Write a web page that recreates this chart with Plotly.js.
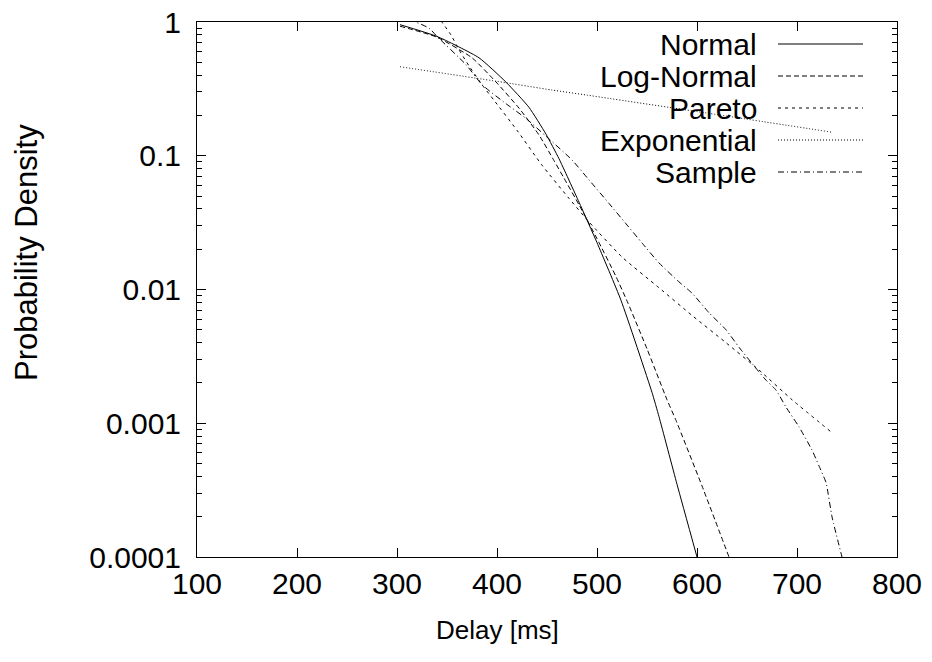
<!DOCTYPE html>
<html>
<head>
<meta charset="utf-8">
<script src="https://cdn.plot.ly/plotly-3.0.1.min.js"></script>
<style>html,body{margin:0;padding:0;background:#fff;}#chart{width:932px;height:662px;}</style>
</head>
<body>
<div id="chart"></div>
<script>
// ---- data ----
const seriesNames = ["Normal", "Log-Normal", "Pareto", "Exponential", "Sample"];

const normalX = [303, 340, 382, 409, 432, 449, 462, 482, 500, 524, 555, 562, 580, 600];
const normalY = [0.955, 0.78, 0.54, 0.355, 0.23, 0.145, 0.095, 0.045, 0.0224, 0.0083, 0.0017, 0.00112, 0.00035, 0.0001];

const lognormalX = [303, 340, 375, 399, 422, 442, 457, 467, 482, 500, 519, 531, 550, 570, 579, 605, 632];
const lognormalY = [0.93, 0.77, 0.54, 0.356, 0.227, 0.143, 0.092, 0.068, 0.043, 0.024, 0.0125, 0.0079, 0.0036, 0.0015, 0.00105, 0.00034, 0.0001];

const paretoX = [344, 354, 362, 372, 385, 397, 420, 445, 472, 492, 525, 562, 595, 629, 662, 695, 735];
const paretoY = [1.02, 0.8, 0.62, 0.47, 0.34, 0.26, 0.155, 0.085, 0.048, 0.032, 0.0175, 0.0103, 0.0064, 0.0040, 0.0025, 0.0015, 0.00085];

const exponentialX = [303, 400, 455, 490, 600, 735];
const exponentialY = [0.463, 0.36, 0.31, 0.284, 0.214, 0.15];

const sampleX = [312, 332, 340, 369, 385, 409, 429, 449, 475, 492, 512, 529, 545, 562, 582, 595, 612, 629, 642, 655, 669, 679, 689, 702, 715, 722, 729, 735, 745];
const sampleY = [1.05, 0.9, 0.78, 0.48, 0.34, 0.245, 0.19, 0.14, 0.093, 0.066, 0.044, 0.031, 0.0223, 0.0158, 0.0114, 0.0094, 0.0067, 0.005, 0.0037, 0.0028, 0.0021, 0.00177, 0.00132, 0.00094, 0.00063, 0.00048, 0.00036, 0.0002, 0.0001];

const dashes = ["solid", "5px,3px", "3px,4px", "1px,2px", "6px,3px,1px,3px"];

// ---- traces ----
const xs = [normalX, lognormalX, paretoX, exponentialX, sampleX];
const ys = [normalY, lognormalY, paretoY, exponentialY, sampleY];
const traces = seriesNames.map((n, i) => ({
  type: "scatter", mode: "lines", name: n,
  x: xs[i], y: ys[i],
  line: {color: "#000", width: 1, dash: dashes[i], shape: "spline", smoothing: 0.5},
  showlegend: false, cliponaxis: true
}));

// ---- manual gnuplot-style key (text right, sample line to its right) ----
const FONT = "Liberation Sans, Arial, sans-serif";
const plotL = 197, plotR = 897, plotT = 22, plotB = 557;
const px2x = p => (p - plotL) / (plotR - plotL);
const px2y = p => (plotB - p) / (plotB - plotT);
const keyRows = [44, 76, 108, 140, 172];
const annotations = [], shapes = [];
seriesNames.forEach((n, i) => {
  annotations.push({xref: "paper", yref: "paper", x: px2x(759), y: px2y(keyRows[i]),
    xanchor: "right", yanchor: "middle", showarrow: false, text: n,
    font: {family: FONT, size: 30, color: "#000"}});
  shapes.push({type: "line", xref: "paper", yref: "paper",
    x0: px2x(778), x1: px2x(863), y0: px2y(keyRows[i]), y1: px2y(keyRows[i]),
    line: {color: "#000", width: 1, dash: dashes[i]}});
});
// axis titles placed like the gnuplot original
annotations.push({xref: "paper", yref: "paper", x: px2x(497), y: px2y(630),
  xanchor: "center", yanchor: "middle", showarrow: false, text: "Delay [ms]",
  font: {family: FONT, size: 26, color: "#000"}});
annotations.push({xref: "paper", yref: "paper", x: px2x(27), y: px2y(253),
  xanchor: "center", yanchor: "middle", showarrow: false, textangle: -90,
  text: "Probability Density", font: {family: FONT, size: 31, color: "#000"}});

const layout = {
  width: 932, height: 662,
  margin: {l: plotL, r: 932 - plotR, t: plotT, b: 662 - plotB, pad: 0},
  paper_bgcolor: "#fff", plot_bgcolor: "#fff",
  font: {family: FONT, size: 30, color: "#000"},
  xaxis: {
    range: [100, 800], tickmode: "linear", tick0: 100, dtick: 100,
    ticks: "inside", ticklen: 9, tickwidth: 1, tickcolor: "#000",
    showline: true, linecolor: "#000", linewidth: 1, mirror: "allticks",
    showgrid: false, zeroline: false, ticklabelstandoff: 0,
    tickfont: {family: FONT, size: 30}
  },
  yaxis: {
    type: "log", range: [-4, 0], tickmode: "linear", tick0: 0, dtick: 1,
    exponentformat: "none",
    ticks: "inside", ticklen: 9, tickwidth: 1, tickcolor: "#000",
    minor: {ticks: "inside", ticklen: 5, tickcolor: "#000", showgrid: false},
    showline: true, linecolor: "#000", linewidth: 1, mirror: "allticks",
    showgrid: false, zeroline: false, ticklabelstandoff: 9,
    tickfont: {family: FONT, size: 30}
  },
  annotations: annotations,
  shapes: shapes
};

Plotly.newPlot("chart", traces, layout, {displayModeBar: false, staticPlot: true});
</script>
</body>
</html>
